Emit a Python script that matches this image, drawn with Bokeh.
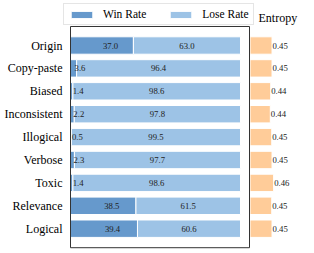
from bokeh.plotting import figure
from bokeh.models import (ColumnDataSource, Range1d, Legend, LegendItem,
                          BoxAnnotation, FixedTicker)
from bokeh.embed import file_html
from bokeh.resources import INLINE
from bokeh.core.properties import value

# ---- data ----
categories = ["Origin", "Copy-paste", "Biased", "Inconsistent", "Illogical",
              "Verbose", "Toxic", "Relevance", "Logical"]
win_rate = [37.0, 3.6, 1.4, 2.2, 0.5, 2.3, 1.4, 38.5, 39.4]
lose_rate = [63.0, 96.4, 98.6, 97.8, 99.5, 97.7, 98.6, 61.5, 60.6]
entropy = [0.452, 0.452, 0.443, 0.440, 0.450, 0.452, 0.463, 0.450, 0.452]
series_names = ["Win Rate", "Lose Rate"]
entropy_title = "Entropy"

FONT = "Liberation Serif"
WIN_COLOR = "#6699CC"
LOSE_COLOR = "#9DC3E6"
ENT_COLOR = "#FFCC99"
BOX_COLOR = "#333333"

# ---- layout constants (pixels / axis geometry) ----
W, H = 312, 251
BORDER_L = 62
FRAME_W = W - BORDER_L
FRAME_H = H
MAIN_PX = 1.70          # px per percentage point
BAR0_PX = 8             # px from frame left to the 0 % baseline
ENT_PX = 145.0          # px per entropy unit
ENT_START = 0.3         # entropy axis baseline
ENT0_PX = 187.5         # px from frame left to the entropy baseline
MAIN_MAX = 105.3        # right edge of the framed panel
ROW_PX = 22.9           # px per category row
FIRST_ROW_PX = 45       # px from frame top to the first row centre
ROW_PAD = 0.83          # rows of padding above/below inside the box
TITLE_PX = 17           # px from frame top to the entropy title centre

n = len(categories)
ypos = [n - 1 - i for i in range(n)]
y_end = (n - 1) + FIRST_ROW_PX / ROW_PX
y_start = y_end - FRAME_H / ROW_PX
box_bottom = -ROW_PAD
box_top = n - 1 + ROW_PAD

x_start = -BAR0_PX / MAIN_PX
x_end = x_start + FRAME_W / MAIN_PX
ent_lo = ENT_START - ENT0_PX / ENT_PX
ent_hi = ent_lo + FRAME_W / ENT_PX

src = ColumnDataSource(dict(
    y=ypos,
    win=win_rate,
    lose=lose_rate,
    win_x=[w / 2 for w in win_rate],
    lose_x=[w + l / 2 for w, l in zip(win_rate, lose_rate)],
    win_txt=[f"{w:.1f}" for w in win_rate],
    lose_txt=[f"{l:.1f}" for l in lose_rate],
    ent=entropy,
    ent_txt=[f"{e:.2f}" for e in entropy],
))

p = figure(width=W, height=H, x_range=Range1d(x_start, x_end),
           y_range=Range1d(y_start, y_end), x_axis_location=None,
           output_backend="svg", toolbar_location=None,
           min_border_left=BORDER_L, min_border_right=0, min_border_top=0,
           min_border_bottom=0)
p.extra_x_ranges = {"ent": Range1d(ent_lo, ent_hi)}

rs = p.hbar_stack(["win", "lose"], y="y", height=0.76,
                  color=[WIN_COLOR, LOSE_COLOR], line_color="white",
                  line_width=1, source=src)
p.text(x="win_x", y="y", text="win_txt", source=src, x_offset=1,
       text_font=value(FONT), text_font_size="8.7px", text_align="left",
       text_baseline="middle", text_color="#222222")
p.text(x="lose_x", y="y", text="lose_txt", source=src,
       text_font=value(FONT), text_font_size="8.7px", text_align="center",
       text_baseline="middle", text_color="#222222")

p.hbar(y="y", left=ENT_START, right="ent", height=0.76, color=ENT_COLOR,
       line_color="white", line_width=1, source=src, x_range_name="ent")
p.text(x="ent", y="y", text="ent_txt", source=src, x_range_name="ent",
       text_font=value(FONT), text_font_size="8.7px", text_align="left",
       text_baseline="middle", text_color="#222222", x_offset=0.5)
p.text(x=[ENT_START], y=[y_end - TITLE_PX / ROW_PX], text=[entropy_title],
       x_range_name="ent", text_font=value(FONT), text_font_size="12px",
       text_align="left", text_baseline="middle", text_color="black",
       x_offset=8.5)

p.add_layout(BoxAnnotation(left=0, right=MAIN_MAX, bottom=box_bottom,
                           top=box_top, fill_color=None, fill_alpha=0,
                           line_color=BOX_COLOR, line_alpha=1, line_width=1))

p.xgrid.visible = False
p.ygrid.visible = False
p.outline_line_color = None
ax = p.yaxis[0]
ax.ticker = FixedTicker(ticks=ypos)
ax.major_label_overrides = {y: c for y, c in zip(ypos, categories)}
ax.axis_line_color = None
ax.major_tick_line_color = None
ax.minor_tick_line_color = None
ax.major_tick_out = 0
ax.major_tick_in = 0
ax.major_label_standoff = 0
ax.major_label_text_font = FONT
ax.major_label_text_font_size = "12px"
ax.major_label_text_color = "black"

lg = Legend(items=[LegendItem(label=s, renderers=[r]) for s, r in zip(series_names, rs)])
lg.location = (1, FRAME_H - 25)
lg.orientation = "horizontal"
lg.label_text_font = FONT
lg.label_text_font_size = "11.5px"
lg.label_text_color = "black"
lg.glyph_width = 27
lg.glyph_height = 9
lg.label_height = 10
lg.label_standoff = 8
lg.spacing = 21
lg.padding = 4
lg.margin = 0
lg.border_line_color = "#cccccc"
lg.background_fill_alpha = 0.9
p.add_layout(lg, "center")

open("out.html", "w").write(file_html(p, INLINE))
